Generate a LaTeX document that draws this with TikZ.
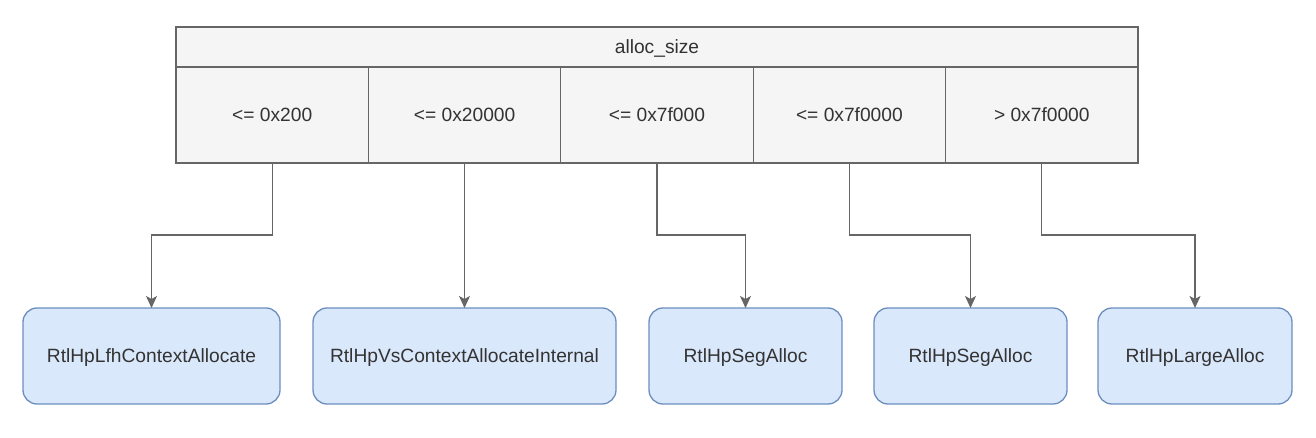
\documentclass[tikz,border=0pt]{standalone}
\usepackage{fontspec}
\setmainfont{Liberation Sans}
\usetikzlibrary{arrows.meta}
\definecolor{cellfill}{HTML}{F5F5F5}
\definecolor{celldraw}{HTML}{666666}
\definecolor{txt}{HTML}{333333}
\definecolor{bluefill}{HTML}{DAE8FC}
\definecolor{bluedraw}{HTML}{6C8EBF}
\definecolor{wire}{HTML}{666666}
\begin{document}
\begin{tikzpicture}[x=1pt,y=-1pt,
  every node/.style={font=\fontsize{19.2}{22}\selectfont, text=txt, inner sep=0pt, outer sep=0pt, text height=13.4pt, text depth=0pt},
  cell/.style={draw=celldraw, fill=cellfill, line width=1.3pt, minimum height=96pt, minimum width=192.4pt},
  hdr/.style={draw=celldraw, fill=cellfill, line width=1.3pt, minimum height=40pt, minimum width=962pt},
  fn/.style={draw=bluedraw, fill=bluefill, line width=1.3pt, rounded corners=14pt, minimum height=96pt},
  conn/.style={draw=wire, line width=1.3pt, -{Stealth[length=12pt,width=11pt,inset=3pt]}}]
\useasboundingbox (0,0) rectangle (1316,438);
\fill[white] (0,0) rectangle (1316,438);
\node[hdr] (head) at (657,47) {alloc\_size};
\node[cell] (c1) at (272.2,115) {<= 0x200};
\node[cell] (c2) at (464.6,115) {<= 0x20000};
\node[cell] (c3) at (657,115) {<= 0x7f000};
\node[cell] (c4) at (849.4,115) {<= 0x7f0000};
\node[cell] (c5) at (1041.8,115) {> 0x7f0000};
\node[fn, minimum width=257pt] (b1) at (151.5,356) {RtlHpLfhContextAllocate};
\node[fn, minimum width=303pt] (b2) at (464.5,356) {RtlHpVsContextAllocateInternal};
\node[fn, minimum width=193pt] (b3) at (745.5,356) {RtlHpSegAlloc};
\node[fn, minimum width=193pt] (b4) at (970.5,356) {RtlHpSegAlloc};
\node[fn, minimum width=194pt] (b5) at (1195,356) {RtlHpLargeAlloc};
\foreach \i in {1,...,5}{
  \draw[conn] (c\i.south) -- ++(0,72) -| (b\i.north);
}
\end{tikzpicture}
\end{document}
